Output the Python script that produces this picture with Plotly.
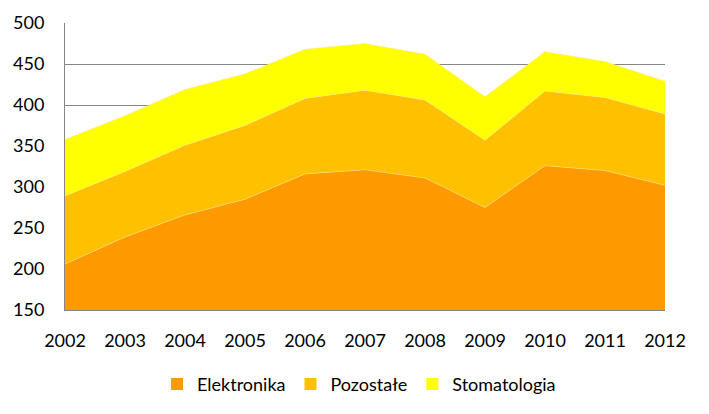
import plotly.graph_objects as go

years = [2002, 2003, 2004, 2005, 2006, 2007, 2008, 2009, 2010, 2011, 2012]
elektronika = [206, 239, 266, 285, 316, 321, 311, 275, 326, 320, 302]
pozostale = [83, 80, 85, 90, 92, 97, 95, 82, 91, 89, 87]
stomatologia = [69, 68, 68, 63, 60, 57, 56, 53, 48, 44, 40]
y_ticks = [150, 200, 250, 300, 350, 400, 450, 500]

series = [
    ("Elektronika", elektronika, "#FF9900"),
    ("Pozostałe", pozostale, "#FFC000"),
    ("Stomatologia", stomatologia, "#FFFF00"),
]

fig = go.Figure()
for name, vals, col in series:
    fig.add_trace(go.Scatter(
        x=years, y=vals, name=name, mode="lines",
        stackgroup="one", fillcolor=col, showlegend=False,
        line=dict(width=0.6, color="rgba(255,230,150,0.8)"),
    ))
for name, vals, col in series:
    fig.add_trace(go.Scatter(
        x=[None], y=[None], name=name, mode="markers",
        marker=dict(symbol="square", size=12, color=col),
    ))

font = "Lato, 'Open Sans', sans-serif"
clear = "rgba(0,0,0,0)"
fig.update_layout(
    width=709, height=414,
    margin=dict(l=65, r=44, t=23, b=103),
    paper_bgcolor="white", plot_bgcolor="white",
    font=dict(family=font, size=18, color="#000000"),
    showlegend=True,
    legend=dict(orientation="h", x=0.49, xanchor="center", y=-0.19, yanchor="top",
                font=dict(size=18), traceorder="normal", itemwidth=30),
    xaxis=dict(range=[2002, 2012], tickmode="array", tickvals=years,
               ticktext=[str(y) for y in years], showgrid=False,
               showline=True, linecolor="#868686", linewidth=1,
               ticks="outside", ticklen=14, tickcolor=clear, zeroline=False),
    yaxis=dict(range=[150, 500], tickmode="array", tickvals=y_ticks,
               showgrid=True, gridcolor="#868686", gridwidth=1,
               showline=True, linecolor="#868686", linewidth=1,
               ticks="outside", ticklen=16, tickcolor=clear, zeroline=False),
)
fig.write_html("out.html")
